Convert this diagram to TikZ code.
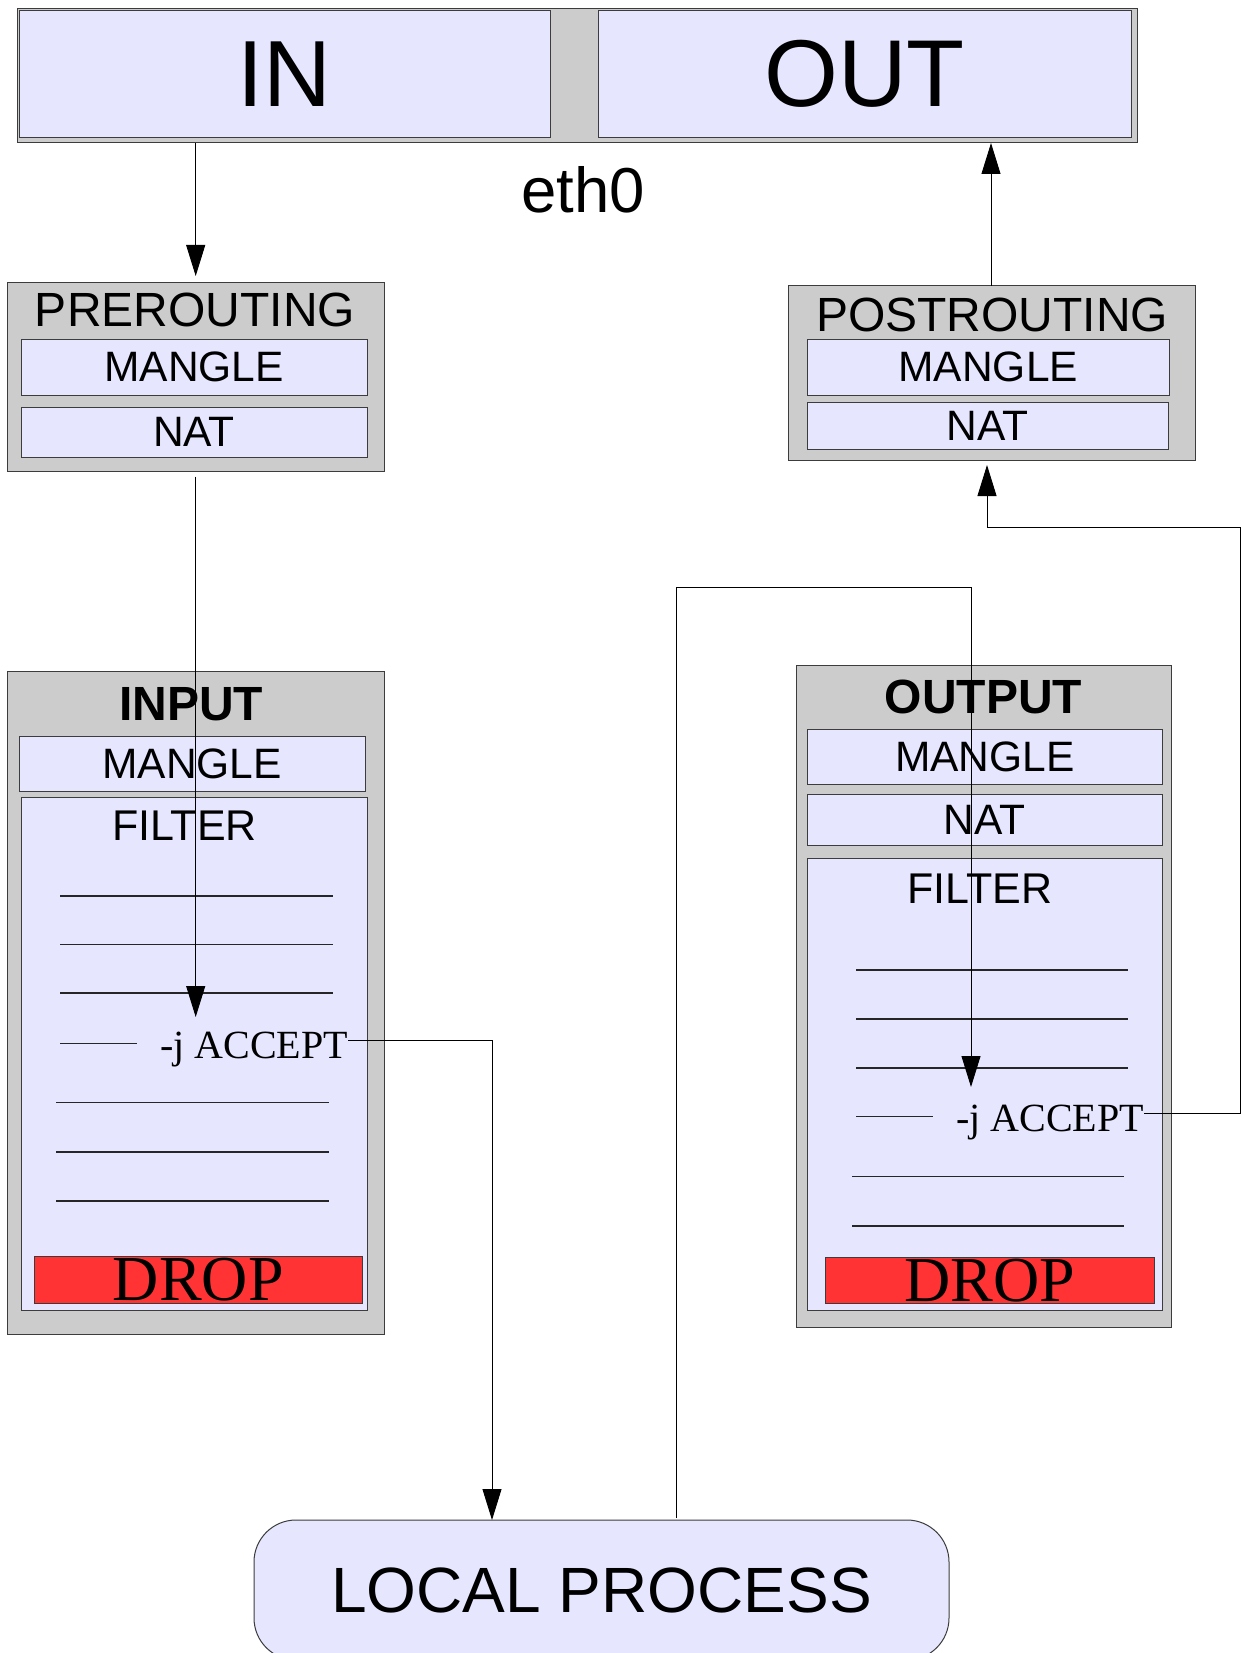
\documentclass[tikz,border=0pt]{standalone}
\usepackage{fontspec}
\setmainfont{Liberation Sans}
\newfontfamily\seriffont{Liberation Serif}
\usetikzlibrary{arrows.meta}
\definecolor{lav}{HTML}{E6E6FF}
\definecolor{grayf}{HTML}{CCCCCC}
\definecolor{redf}{HTML}{FF3333}
\definecolor{edge}{HTML}{3C3C3C}
\newcommand\myfs[1]{\fontsize{#1}{#1}\selectfont}
\tikzset{
  box/.style={rectangle, draw=edge, line width=1pt, inner sep=0pt, outer sep=0pt},
  chain/.style={box, fill=grayf},
  tbl/.style={box, fill=lav, font=\myfs{42.5pt}},
  dropbox/.style={box, fill=redf, font=\seriffont\myfs{64pt}},
  title/.style={inner sep=0pt, font=\myfs{48pt}},
  acc/.style={inner sep=0pt, anchor=base west, font=\seriffont\myfs{40pt}},
  rule/.style={line width=1.2pt, draw=black!85},
  conn/.style={line width=0.9pt, draw=black},
  arr/.style={conn, -{Triangle[length=31pt,width=19pt]}},
}
\begin{document}
\begin{tikzpicture}[x=1pt,y=-1pt]
\useasboundingbox[fill=white] (0,0) rectangle (1244,1653);

% top interface bar
\node[chain, minimum width=1120pt, minimum height=134.5pt] (topbar) at (577,75.75) {};
\node[tbl, minimum width=531pt, minimum height=127.5pt, font=\myfs{94pt}] (inb) at (284.5,74.25) {IN};
\node[tbl, minimum width=533pt, minimum height=127.5pt, font=\myfs{95pt}] (outb) at (864.5,74.25) {OUT};
\node[inner sep=0pt, font=\myfs{63.5pt}] (eth) at (583,190) {eth0};

% PREROUTING
\node[chain, minimum width=376.6pt, minimum height=188.5pt] (pre) at (195.7,376.75) {};
\node[title] (pret) at (195,310) {PREROUTING};
\node[tbl, minimum width=346pt, minimum height=55.5pt] (prem) at (194,367.25) {MANGLE};
\node[tbl, minimum width=346pt, minimum height=50.5pt] (pren) at (194,432.25) {NAT};

% POSTROUTING
\node[chain, minimum width=407pt, minimum height=175pt] (post) at (992,373.2) {};
\node[title] (postt) at (992,315) {POSTROUTING};
\node[tbl, minimum width=361.5pt, minimum height=55.5pt] (postm) at (988.25,367.25) {MANGLE};
\node[tbl, minimum width=360.5pt, minimum height=46.3pt] (postn) at (987.75,425.85) {NAT};

% INPUT
\node[chain, minimum width=376.6pt, minimum height=663pt] (inp) at (195.7,1003) {};
\node[title, font=\bfseries\myfs{48pt}] (inpt) at (191,704) {INPUT};
\node[tbl, minimum width=346pt, minimum height=55pt] (inpm) at (192,763.5) {MANGLE};
\node[box, fill=lav, minimum width=346pt, minimum height=513pt] (inpf) at (194,1053.5) {};
\node[inner sep=0pt, font=\myfs{43pt}] (inpft) at (184.5,825.5) {FILTER};
\draw[rule] (60,896) -- (333,896);
\draw[rule] (60,944.6) -- (333,944.6);
\draw[rule] (60,993) -- (333,993);
\draw[rule] (60,1043.7) -- (137,1043.7);
\node[acc] (acc1) at (160,1058) {-j ACCEPT};
\draw[rule] (56,1102.7) -- (329,1102.7);
\draw[rule] (56,1152) -- (329,1152);
\draw[rule] (56,1201) -- (329,1201);
\node[dropbox, minimum width=328.7pt, minimum height=46.3pt] (drop1) at (198.35,1279.85) {DROP};

% OUTPUT
\node[chain, minimum width=375pt, minimum height=662pt] (outp) at (983.5,996) {};
\node[title, font=\bfseries\myfs{48pt}] (outpt) at (983.5,697) {OUTPUT};
\node[tbl, minimum width=354.5pt, minimum height=54.5pt] (outpm) at (984.75,756.75) {MANGLE};
\node[tbl, minimum width=354.5pt, minimum height=51.5pt] (outpn) at (984.75,819.75) {NAT};
\node[box, fill=lav, minimum width=354.5pt, minimum height=452pt] (outpf) at (984.75,1084) {};
\node[inner sep=0pt, font=\myfs{43pt}] (outpft) at (980,889) {FILTER};
\draw[rule] (856,970) -- (1128,970);
\draw[rule] (856,1019) -- (1128,1019);
\draw[rule] (856,1068) -- (1128,1068);
\draw[rule] (856,1116.5) -- (933,1116.5);
\node[acc] (acc2) at (956,1131.6) {-j ACCEPT};
\draw[rule] (852,1176.5) -- (1124,1176.5);
\draw[rule] (852,1226) -- (1124,1226);
\node[dropbox, minimum width=329pt, minimum height=45.3pt] (drop2) at (989.5,1280.35) {DROP};

% LOCAL PROCESS
\node[box, fill=lav, rounded corners=42pt, minimum width=695pt, minimum height=140pt, font=\myfs{64pt}] (lp) at (601.5,1590) {LOCAL PROCESS};

% connectors
\coordinate (t1) at (195.7,1017);
\coordinate (c1) at (492,1040);
\coordinate (c2) at (676,587);
\coordinate (t2) at (971,1087);
\coordinate (c4) at (1240,527);
\coordinate (t3) at (987,465);

\draw[arr] (topbar.south -| pre.north) -- ([yshift=6.5pt]pre.north);
\draw[arr] ([yshift=-5.5pt]pre.south) -- (t1);
\draw[arr] ([yshift=18pt]acc1.base east) -| (c1 |- lp.north);
\draw[arr] ([yshift=2pt]lp.north -| c2) -- (c2) -| (t2);
\draw[arr] ([yshift=18pt]acc2.base east) -| (c4) -| (t3);
\draw[arr] (post.north -| 991,0) -- (topbar.south -| 991,0);
\end{tikzpicture}
\end{document}
